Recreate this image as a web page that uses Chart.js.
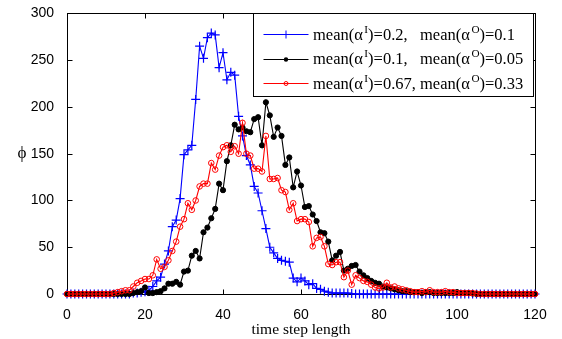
<!DOCTYPE html>
<html>
<head>
<meta charset="utf-8">
<script src="https://cdn.jsdelivr.net/npm/chart.js@4.4.1/dist/chart.umd.min.js"></script>
<style>
  html, body { margin: 0; padding: 0; background: #fff; }
  #wrap { width: 562px; height: 339px; }
</style>
</head>
<body>
<div id="wrap"><canvas id="c" width="562" height="339"></canvas></div>
<script>
// ---- data ----
const steps = Array.from({ length: 121 }, (_, i) => i); // time steps 0..120
const xTicks = [0, 20, 40, 60, 80, 100, 120];
const yTicks = [0, 50, 100, 150, 200, 250, 300];
const seriesLabels = [
  'mean(\u03B1^I)=0.2,   mean(\u03B1^O)=0.1',
  'mean(\u03B1^I)=0.1,   mean(\u03B1^O)=0.05',
  'mean(\u03B1^I)=0.67, mean(\u03B1^O)=0.33'
];
const xTitle = 'time step length';
const yTitle = '\u03D5';

const blue = [
  0,0,0,0,0,0,0,0,0,0,
  0,0,0,0,0,0,0,1,1,2,
  2.5,4,8,14,18,32,46,72,79,102,
  149,154,159,208,265,252,274,279,277,242,
  258,229,237,234,190,169,148,138,115,108,
  89,70,50,44,38,36,35,34,17,13,
  17,14,10,11,6,5,3,2,1,1,
  1,1,1,0.5,0,0,0,0,0,0,
  0,0,0,0,0,0,0,0,0,0,
  0,0,0,0,0,0,0,0,0,0,
  0,0,0,0,0,0,0,0,0,0,
  0,0,0,0,0,0,0,0,0,0,
  0
];
const black = [
  0,0,0,0,0,0,0,0,0,0,
  0,0,0,0,0,0,0,1,2,3,
  7,1,1,2,3,6,11,11,13,10,
  24,25,41,46,38,66,71,81,91,118,
  111,142,159,181,176,178,174,173,187,189,
  159,205,191,168,178,169,138,146,114,131,
  116,93,94,85,78,66,65,56,36,41,
  45,25,27,30,31,24,20,17,14,12,
  11,8,7,6,5,4,3,3,2,2,
  2,1,2,2,1,1,1,1,1,1,
  2,1,1,1,0.5,0,0,0,0,0,
  0,0,0,0,0,0,0,0,0,0,
  0
];
const red = [
  0,0,0,0,0,0,0,0,0,0,
  0,0,1,2,3,4,4,8,12,14,
  16,16,20,37,27,29,36,46,56,72,
  80,97,90,100,115,118,118,140,133,148,
  157,159,152,158,150,183,150,148,134,134,
  131,169,123,123,124,111,109,90,97,78,
  80,80,77,51,60,61,51,32,31,34,
  34,18,25,10,20,17,14,13,10,7,
  6,7,12,7,8,6,5,4,3,2,
  2,3,2,4,2,2,2,3,2,2,
  1,1,1,1,1,0.5,0,0,0,0,
  0,0,0,0,0,0,0,0,0,0,
  0
];

const COLORS = ['#0000ff', '#000000', '#ff0000'];
const toXY = arr => arr.map((v, i) => ({ x: steps[i], y: v }));

// ---- helpers ----
function drawRich(ctx, text, x, y, size, family) {
  let cx = x;
  const parts = text.split(/(\^.)/);
  for (const p of parts) {
    if (!p) continue;
    if (p[0] === '^') {
      ctx.font = (size * 0.68) + 'px ' + family;
      ctx.fillText(p[1], cx + 1.5, y - size * 0.42);
      cx += ctx.measureText(p[1]).width + 1.5;
    } else {
      ctx.font = size + 'px ' + family;
      ctx.fillText(p, cx, y);
      cx += ctx.measureText(p).width;
    }
  }
}

function drawMarker(ctx, i, x, y) {
  ctx.save();
  ctx.strokeStyle = COLORS[i];
  ctx.fillStyle = COLORS[i];
  ctx.lineWidth = 1;
  ctx.beginPath();
  if (i === 0) {
    ctx.moveTo(x - 4, y); ctx.lineTo(x + 4, y);
    ctx.moveTo(x, y - 4); ctx.lineTo(x, y + 4);
    ctx.stroke();
  } else if (i === 1) {
    ctx.arc(x, y, 2.2, 0, Math.PI * 2);
    ctx.fill();
  } else {
    ctx.arc(x, y, 2, 0, Math.PI * 2);
    ctx.stroke();
  }
  ctx.restore();
}

const framePlugin = {
  id: 'frame',
  beforeDatasetsDraw(chart) {
    const { ctx, chartArea: a, scales: { x, y } } = chart;
    ctx.save();
    ctx.strokeStyle = '#000';
    ctx.lineWidth = 1;
    const l = Math.round(a.left) + 0.5, t = Math.round(a.top) + 0.5;
    const r = Math.round(a.right) + 0.5, b = Math.round(a.bottom) + 0.5;
    ctx.strokeRect(l, t, r - l, b - t);
    const L = 5;
    ctx.beginPath();
    xTicks.forEach(v => {
      const px = Math.round(x.getPixelForValue(v)) + 0.5;
      ctx.moveTo(px, b); ctx.lineTo(px, b - L);
      ctx.moveTo(px, t); ctx.lineTo(px, t + L);
    });
    yTicks.forEach(v => {
      const py = Math.round(y.getPixelForValue(v)) + 0.5;
      ctx.moveTo(l, py); ctx.lineTo(l + L, py);
      ctx.moveTo(r, py); ctx.lineTo(r - L, py);
    });
    ctx.stroke();
    // y title (upright phi)
    ctx.fillStyle = '#000';
    ctx.font = '17px "Liberation Serif", "DejaVu Serif", serif';
    ctx.textAlign = 'center';
    ctx.textBaseline = 'middle';
    ctx.fillText(yTitle, 22, (a.top + a.bottom) / 2);
    ctx.restore();
  },
  afterDraw(chart) {
    const { ctx, chartArea: a } = chart;
    ctx.save();
    const w = 280, h = 83;
    const bx = Math.round(a.right - w - 2) + 0.5;
    const by = Math.round(a.top) + 0.5;
    ctx.fillStyle = '#fff';
    ctx.fillRect(bx, by, w, h);
    ctx.strokeStyle = '#000';
    ctx.lineWidth = 1;
    ctx.strokeRect(bx, by, w, h);
    const family = '"Liberation Serif", "Times New Roman", serif';
    seriesLabels.forEach((lab, i) => {
      const cy = by + 20.5 + i * 24.5;
      ctx.strokeStyle = COLORS[i];
      ctx.lineWidth = 1;
      ctx.beginPath();
      ctx.moveTo(bx + 10, Math.round(cy) + 0.5);
      ctx.lineTo(bx + 55, Math.round(cy) + 0.5);
      ctx.stroke();
      drawMarker(ctx, i, bx + 32.5, Math.round(cy) + 0.5);
      ctx.fillStyle = '#000';
      ctx.textAlign = 'left';
      ctx.textBaseline = 'alphabetic';
      drawRich(ctx, lab, bx + 59.5, cy + 5.5, 16.5, family);
    });
    ctx.restore();
  }
};

const datasets = [
  { label: seriesLabels[0], data: toXY(blue), borderColor: COLORS[0], backgroundColor: COLORS[0],
    borderWidth: 1.1, pointStyle: 'cross', pointRadius: 4.5, pointBorderWidth: 1.2, order: 3 },
  { label: seriesLabels[1], data: toXY(black), borderColor: COLORS[1], backgroundColor: COLORS[1],
    borderWidth: 1.1, pointStyle: 'circle', pointRadius: 2.6, pointBorderWidth: 1, order: 2 },
  { label: seriesLabels[2], data: toXY(red), borderColor: COLORS[2], backgroundColor: 'rgba(0,0,0,0)',
    borderWidth: 1.1, pointStyle: 'circle', pointRadius: 2.8, pointBorderWidth: 1, order: 1 }
].map(d => Object.assign(d, { tension: 0, fill: false, clip: false, pointHoverRadius: d.pointRadius }));

new Chart(document.getElementById('c'), {
  type: 'line',
  data: { datasets },
  options: {
    responsive: false,
    animation: false,
    events: [],
    layout: { padding: { top: 9, right: 27, left: 0, bottom: 0 } },
    plugins: { legend: { display: false }, tooltip: { enabled: false } },
    scales: {
      x: {
        type: 'linear', min: 0, max: 120,
        afterBuildTicks: s => { s.ticks = xTicks.map(v => ({ value: v })); },
        afterFit: s => { s.height = 45; },
        grid: { display: false },
        border: { display: false },
        ticks: { color: '#000', padding: 5, maxRotation: 0,
          font: { family: '"Liberation Sans", Arial, sans-serif', size: 14 } },
        title: { display: true, text: xTitle, color: '#000', padding: { top: 0, bottom: 1 },
          font: { family: '"Liberation Serif", "Times New Roman", serif', size: 15.5, lineHeight: 1 } }
      },
      y: {
        type: 'linear', min: 0, max: 300,
        afterBuildTicks: s => { s.ticks = yTicks.map(v => ({ value: v })); },
        afterFit: s => { s.width = 67; },
        grid: { display: false },
        border: { display: false },
        ticks: { color: '#000', padding: 5,
          font: { family: '"Liberation Sans", Arial, sans-serif', size: 14 } }
      }
    }
  },
  plugins: [framePlugin]
});
</script>
</body>
</html>
